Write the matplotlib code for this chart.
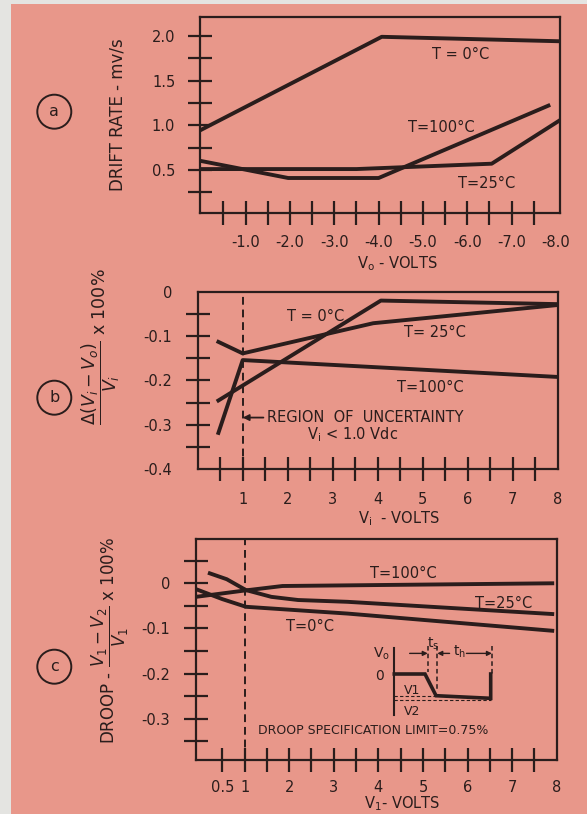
import matplotlib
matplotlib.use('Agg')
import matplotlib.pyplot as plt
from matplotlib.patches import Ellipse, Rectangle

plt.rcParams['font.family'] = ['DejaVu Sans']
plt.rcParams['mathtext.fontset'] = 'dejavusans'

W, H = 587, 814
INK = '#2a1d1c'
PINK = '#E8978A'
PAPER = '#E4E4E1'

# ---------------- data ----------------
# Panel a : drift rate (mv/s) vs Vo (volts)
a_T0_x = [0.0, -4.07, -8.1]
a_T0_y = [0.95, 1.99, 1.94]
a_T100_x = [0.0, -1.96, -4.0, -7.83]
a_T100_y = [0.60, 0.41, 0.41, 1.22]
a_T25_x = [0.0, -3.5, -6.55, -8.1]
a_T25_y = [0.51, 0.51, 0.57, 1.06]
a_xmajor = [-1.0, -2.0, -3.0, -4.0, -5.0, -6.0, -7.0, -8.0]
a_xlabels = ['-1.0', '-2.0', '-3.0', '-4.0', '-5.0', '-6.0', '-7.0', '-8.0']
a_xminor = [-0.5, -1.5, -2.5, -3.5, -4.5, -5.5, -6.5, -7.5]
a_ymajor = [0.5, 1.0, 1.5, 2.0]
a_ylabels = ['0.5', '1.0', '1.5', '2.0']
a_yminor = [0.25, 0.75, 1.25, 1.75]

# Panel b : delta(Vi-Vo)/Vi x 100% vs Vi
b_T0_x = [0.46, 4.07, 8.0]
b_T0_y = [-0.245, -0.020, -0.028]
b_T25_x = [0.46, 1.0, 3.9, 8.0]
b_T25_y = [-0.113, -0.139, -0.071, -0.030]
b_T100_x = [0.46, 1.0, 8.0]
b_T100_y = [-0.318, -0.154, -0.192]
b_xmajor = [1, 2, 3, 4, 5, 6, 7, 8]
b_xlabels = ['1', '2', '3', '4', '5', '6', '7', '8']
b_xminor = [0.5, 1.5, 2.5, 3.5, 4.5, 5.5, 6.5, 7.5]
b_ymajor = [0.0, -0.1, -0.2, -0.3, -0.4]
b_ylabels = ['0', '-0.1', '-0.2', '-0.3', '-0.4']
b_yminor = [-0.05, -0.15, -0.25, -0.35]

# Panel c : droop vs V1
c_T100_x = [-0.09, 1.0, 1.85, 7.9]
c_T100_y = [-0.030, -0.016, -0.006, 0.0]
c_T25_x = [0.22, 0.6, 1.03, 1.6, 2.2, 3.31, 7.9]
c_T25_y = [0.022, 0.009, -0.015, -0.030, -0.037, -0.041, -0.068]
c_T0_x = [-0.09, 0.5, 1.03, 3.31, 7.9]
c_T0_y = [-0.013, -0.035, -0.052, -0.067, -0.105]
c_xmajor = [0.5, 1, 2, 3, 4, 5, 6, 7, 8]
c_xlabels = ['0.5', '1', '2', '3', '4', '5', '6', '7', '8']
c_xminor = [1.5, 2.5, 3.5, 4.5, 5.5, 6.5, 7.5]
c_ymajor = [0.0, -0.1, -0.2, -0.3]
c_ylabels = ['0', '-0.1', '-0.2', '-0.3']
c_yminor = [0.05, -0.05, -0.15, -0.25, -0.35]

# inset schematic of the sample/hold waveform (schematic units)
wave_t = [0.0, 1.0, 1.36, 3.14, 3.14]
wave_v = [0.0, 0.0, -1.0, -1.12, 0.0]
v1_level, v2_level = -1.0, -1.2
ts_start, ts_end, th_end = 1.09, 1.40, 3.18

# ---------------- figure ----------------
fig = plt.figure(figsize=(W / 100, H / 100), dpi=100)
fig.patch.set_facecolor(PAPER)
fig.add_artist(Rectangle((11 / W, 0), 1 - 11 / W, 1 - 4 / H, transform=fig.transFigure,
                         facecolor=PINK, edgecolor='none', zorder=0))


def fx(px):
    return px / W


def fy(py):
    return 1 - py / H


def make_axes(l, t, r, b):
    ax = fig.add_axes([fx(l), fy(b), (r - l) / W, (b - t) / H])
    ax.set_facecolor('none')
    for s in ax.spines.values():
        s.set_linewidth(1.6)
        s.set_color(INK)
    ax.tick_params(which='both', direction='inout', length=17, width=1.6,
                   colors=INK, labelsize=10.5)
    return ax


LW = 2.8

# ---- panel a ----
axA = make_axes(199.5, 16.7, 560.4, 213.3)
axA.plot(a_T0_x, a_T0_y, color=INK, lw=LW)
axA.plot(a_T100_x, a_T100_y, color=INK, lw=LW)
axA.plot(a_T25_x, a_T25_y, color=INK, lw=LW)
axA.set_xlim(0.04, -8.1)
axA.set_ylim(0.015, 2.215)
axA.set_xticks(a_xmajor)
axA.set_xticklabels(a_xlabels)
axA.set_xticks(a_xminor, minor=True)
axA.set_yticks(a_ymajor)
axA.set_yticklabels(a_ylabels)
axA.set_yticks(a_yminor, minor=True)
axA.tick_params(axis='x', which='both', pad=7)
axA.tick_params(axis='y', which='both', pad=9)
axA.xaxis.get_major_ticks()[-1].tick1line.set_visible(False)
axA.text(-5.84, 1.796, 'T = 0°C', ha='center', va='center', fontsize=10.5, color=INK)
axA.text(-5.42, 0.979, 'T=100°C', ha='center', va='center', fontsize=10.5, color=INK)
axA.text(-6.44, 0.352, 'T=25°C', ha='center', va='center', fontsize=10.5, color=INK)
fig.text(fx(397), fy(264), r'V$_\mathregular{o}$ - VOLTS', ha='center', va='center', fontsize=10.5, color=INK)
fig.text(fx(118), fy(115), 'DRIFT RATE - mv/s', rotation=90, ha='center', va='center', fontsize=12, color=INK)

# ---- panel b ----
axB = make_axes(197.7, 291.7, 557.7, 469.3)
axB.plot(b_T0_x, b_T0_y, color=INK, lw=LW)
axB.plot(b_T25_x, b_T25_y, color=INK, lw=LW)
axB.plot(b_T100_x, b_T100_y, color=INK, lw=LW)
axB.axvline(1.0, color=INK, lw=1.4, ls=(0, (4, 2.5)))
axB.set_xlim(0, 8)
axB.set_ylim(-0.4, 0.0)
axB.set_xticks(b_xmajor)
axB.set_xticklabels(b_xlabels)
axB.set_xticks(b_xminor, minor=True)
axB.set_yticks(b_ymajor)
axB.set_yticklabels(b_ylabels)
axB.set_yticks(b_yminor, minor=True)
axB.tick_params(axis='x', which='both', pad=8)
axB.tick_params(axis='y', which='both', pad=10)
axB.xaxis.get_major_ticks()[-1].tick1line.set_visible(False)
axB.yaxis.get_major_ticks()[0].tick1line.set_visible(False)
axB.yaxis.get_major_ticks()[-1].tick1line.set_visible(False)
axB.text(2.62, -0.055, 'T = 0°C', ha='center', va='center', fontsize=10.5, color=INK)
axB.text(5.27, -0.092, 'T= 25°C', ha='center', va='center', fontsize=10.5, color=INK)
axB.text(5.16, -0.215, 'T=100°C', ha='center', va='center', fontsize=10.5, color=INK)
axB.annotate('', xy=(1.0, -0.2835), xytext=(1.46, -0.2835),
             arrowprops=dict(arrowstyle='-|>', color=INK, lw=1.3, mutation_scale=9, shrinkA=0, shrinkB=0))
axB.text(1.55, -0.2835, 'REGION  OF  UNCERTAINTY', ha='left', va='center', fontsize=10.5, color=INK)
axB.text(2.42, -0.321, r'V$_\mathregular{i}$ < 1.0 Vdc', ha='left', va='center', fontsize=10.5, color=INK)
fig.text(fx(398.7), fy(518.3), r'V$_\mathregular{i}$  - VOLTS', ha='center', va='center', fontsize=10.5, color=INK)
fig.text(fx(101), fy(347), r'$\dfrac{\Delta(V_i - V_o)}{V_i}$ x 100%', rotation=90,
         ha='center', va='center', fontsize=12.5, color=INK)

# ---- panel c ----
axC = make_axes(196, 539, 556.7, 760)
axC.plot(c_T100_x, c_T100_y, color=INK, lw=LW)
axC.plot(c_T25_x, c_T25_y, color=INK, lw=LW)
axC.plot(c_T0_x, c_T0_y, color=INK, lw=LW)
axC.axvline(1.0, color=INK, lw=1.4, ls=(0, (4, 2.5)))
axC.set_xlim(-0.09, 8.0)
axC.set_ylim(-0.391, 0.098)
axC.set_xticks(c_xmajor)
axC.set_xticklabels(c_xlabels)
axC.set_xticks(c_xminor, minor=True)
axC.set_yticks(c_ymajor)
axC.set_yticklabels(c_ylabels)
axC.set_yticks(c_yminor, minor=True)
axC.tick_params(axis='x', which='both', pad=6)
axC.tick_params(axis='y', which='both', pad=10)
axC.xaxis.get_major_ticks()[-1].tick1line.set_visible(False)
axC.text(4.57, 0.022, 'T=100°C', ha='center', va='center', fontsize=10.5, color=INK)
axC.text(6.81, -0.044, 'T=25°C', ha='center', va='center', fontsize=10.5, color=INK)
axC.text(2.47, -0.096, 'T=0°C', ha='center', va='center', fontsize=10.5, color=INK)
axC.text(1.29, -0.326, 'DROOP SPECIFICATION LIMIT=0.75%', ha='left', va='center', fontsize=9, color=INK)
fig.text(fx(402.5), fy(804), r'V$_\mathregular{1}$- VOLTS', ha='center', va='center', fontsize=10.5, color=INK)
fig.text(fx(110), fy(640), r'DROOP - $\dfrac{V_1 - V_2}{V_1}$ x 100%', rotation=90,
         ha='center', va='center', fontsize=12, color=INK)

# inset waveform
x0, y0, sx, sy = 394.3, 674.0, 30.7, 21.7
il, ir, it, ib = 360.0, 510.0, 635.0, 722.0
axI = fig.add_axes([fx(il), fy(ib), (ir - il) / W, (ib - it) / H])
axI.set_facecolor('none')
axI.set_axis_off()
axI.set_xlim((il - x0) / sx, (ir - x0) / sx)
axI.set_ylim(-(ib - y0) / sy, -(it - y0) / sy)
axI.plot([0, 0], [1.18, -1.9], color=INK, lw=1.5)
axI.plot(wave_t, wave_v, color=INK, lw=2.6, solid_joinstyle='miter')
axI.plot([0, ts_end], [v1_level, v1_level], color=INK, lw=0.8, ls=(0, (3, 2)))
axI.plot([0, wave_t[-1]], [v2_level, v2_level], color=INK, lw=0.8, ls=(0, (3, 2)))
axI.plot([ts_start, ts_start], [1.3, 0.1], color=INK, lw=1.1, ls=(0, (3, 2)))
axI.plot([ts_end, ts_end], [1.3, -0.75], color=INK, lw=1.1, ls=(0, (3, 2)))
axI.plot([th_end, th_end], [1.3, 0.0], color=INK, lw=1.1, ls=(0, (3, 2)))
arr = dict(arrowstyle='-|>', color=INK, lw=1.0, mutation_scale=7, shrinkA=0, shrinkB=0)
axI.annotate('', xy=(ts_start, 0.95), xytext=(0.5, 0.95), arrowprops=arr)
axI.annotate('', xy=(ts_end, 0.95), xytext=(1.8, 0.95), arrowprops=arr)
axI.annotate('', xy=(th_end, 0.95), xytext=(2.35, 0.95), arrowprops=arr)
axI.text(1.25, 1.38, r'$\mathregular{t_s}$', ha='center', va='center', fontsize=10, color=INK)
axI.text(2.12, 1.0, r'$\mathregular{t_h}$', ha='center', va='center', fontsize=10, color=INK)
axI.text(-0.42, 0.92, r'V$_\mathregular{o}$', ha='center', va='center', fontsize=10, color=INK)
axI.text(-0.48, -0.09, '0', ha='center', va='center', fontsize=10, color=INK)
axI.text(0.57, -0.77, 'V1', ha='center', va='center', fontsize=9, color=INK)
axI.text(0.57, -1.72, 'V2', ha='center', va='center', fontsize=9, color=INK)

# circled panel letters
for letter, cy in (('a', 111.7), ('b', 397.7), ('c', 666.7)):
    fig.add_artist(Ellipse((fx(54.3), fy(cy)), 34 / W, 34 / H, transform=fig.transFigure,
                           facecolor='none', edgecolor=INK, lw=1.4))
    fig.text(fx(54.3), fy(cy), letter, ha='center', va='center', fontsize=11.5, color=INK)

fig.savefig('out.png', dpi=100, facecolor=fig.get_facecolor())
